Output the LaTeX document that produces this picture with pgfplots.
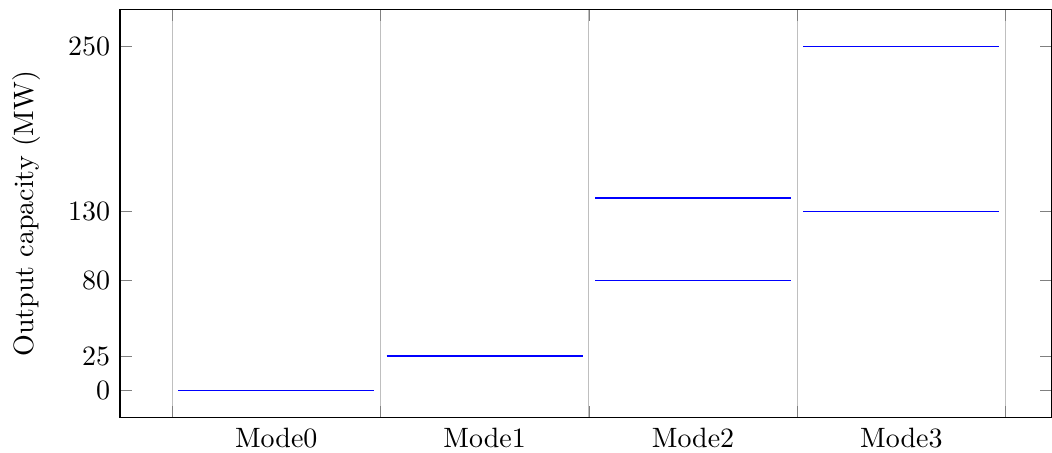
\documentclass[border=0pt]{standalone}
\usepackage{pgfplots}
\pgfplotsset{compat=1.18}
\begin{document}
\begin{tikzpicture}
\begin{axis}[
  scale only axis,
  width=333pt, height=146pt,
  xmin=-0.25, xmax=4.22,
  ymin=-20, ymax=277,
  xtick={0,1,2,3,4},
  xticklabels={Mode0,Mode1,Mode2,Mode3},
  x tick label as interval,
  xmajorgrids,
  ytick={0,25,80,130,250},
  ylabel={Output capacity (MW)},
  ylabel shift=3pt,
]
\addplot[blue, no marks, line width=0.5pt] coordinates {(0.03,0) (0.97,0)};
\addplot[blue, no marks, line width=0.5pt] coordinates {(1.03,25) (1.97,25)};
\addplot[blue, no marks, line width=0.5pt] coordinates {(2.03,80) (2.97,80)};
\addplot[blue, no marks, line width=0.5pt] coordinates {(2.03,140) (2.97,140)};
\addplot[blue, no marks, line width=0.5pt] coordinates {(3.03,130) (3.97,130)};
\addplot[blue, no marks, line width=0.5pt] coordinates {(3.03,250) (3.97,250)};
\coordinate (sw) at (rel axis cs:0,0);
\coordinate (ne) at (rel axis cs:1,1);
\end{axis}
\pgfresetboundingbox
\path[use as bounding box] ([xshift=-42.9pt,yshift=-12.4pt]sw) rectangle ([xshift=0.2pt,yshift=3.4pt]ne);
\end{tikzpicture}
\end{document}
